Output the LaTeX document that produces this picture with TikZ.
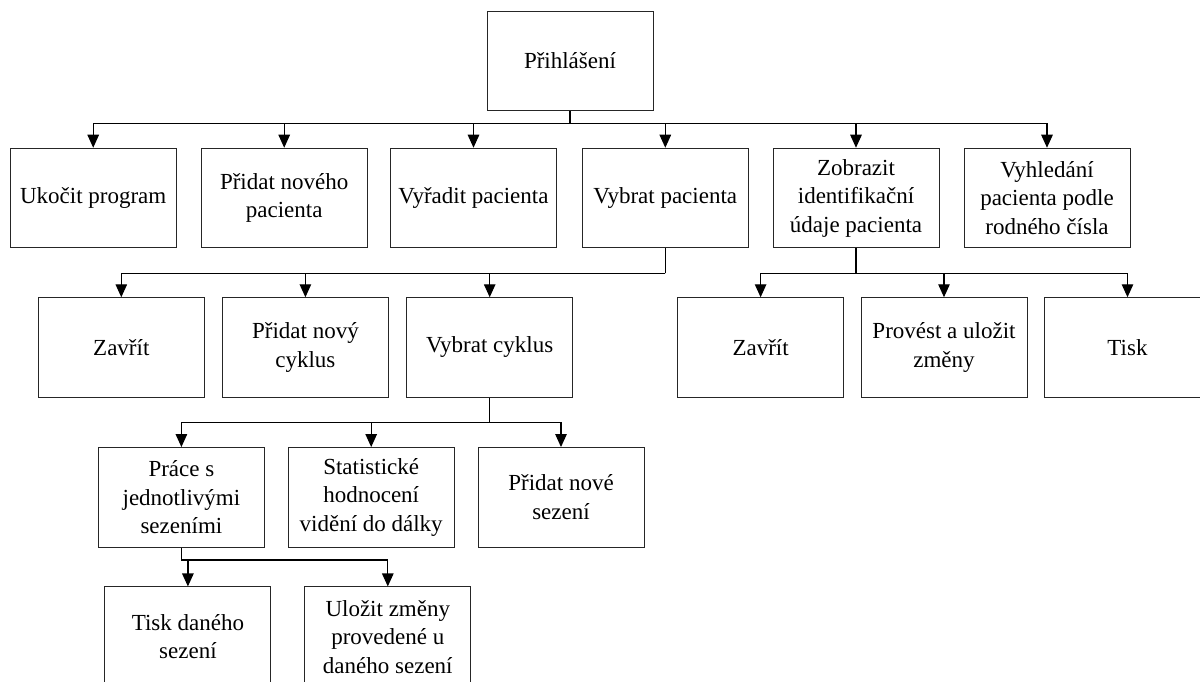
\documentclass[tikz,border=0pt]{standalone}
\usepackage{fontspec}
\setmainfont{Liberation Serif}
\usetikzlibrary{arrows.meta}
\begin{document}
\begin{tikzpicture}[x=1pt,y=-1pt,
  box/.style={draw=black!85, line width=1pt, minimum width=166pt, minimum height=99.5pt,
    inner sep=0pt, align=center, font=\fontsize{23}{28.5}\selectfont},
  conn/.style={line width=1.2pt},
  arr/.style={conn, -{Triangle[length=13pt,width=11.5pt]}}]
\useasboundingbox (0,0) rectangle (1200,682);
\clip (0,0) rectangle (1200,682);
\fill[white] (0,0) rectangle (1200,682);

% top
\node[box] (top) at (570,61) {Přihlášení};
% row 1
\node[box] (u1) at (93.2,198) {Ukočit program};
\node[box] (u2) at (284.2,198) {Přidat nového\\pacienta};
\node[box] (u3) at (473.5,198) {Vyřadit pacienta};
\node[box] (u4) at (665.3,198) {Vybrat pacienta};
\node[box] (u5) at (856,198) {Zobrazit\\identifikační\\údaje pacienta};
\node[box] (u6) at (1047,198) {Vyhledání\\pacienta podle\\rodného čísla};
% row 2
\node[box] (a1) at (121.3,347.5) {Zavřít};
\node[box] (a2) at (305.4,347.5) {Přidat nový\\cyklus};
\node[box] (a3) at (489.7,347.5) {Vybrat cyklus};
\node[box] (b1) at (760.6,347.5) {Zavřít};
\node[box] (b2) at (944,347.5) {Provést a uložit\\změny};
\node[box] (b3) at (1127.5,347.5) {Tisk};
% row 3
\node[box] (c1) at (181.4,497.3) {Práce s\\jednotlivými\\sezeními};
\node[box] (c2) at (371.2,497.3) {Statistické\\hodnocení\\vidění do dálky};
\node[box] (c3) at (561,497.3) {Přidat nové\\sezení};
% row 4
\node[box] (d1) at (187.9,636.7) {Tisk daného\\sezení};
\node[box] (d2) at (387.8,636.7) {Uložit změny\\provedené u\\daného sezení};

% connectors
\coordinate (k0) at (570,123.3);
\draw[conn] (top.south) -- (k0);
\foreach \n in {u1,u2,u3,u4,u5,u6} \draw[arr] (k0) -| (\n.north);

\coordinate (k1) at (665.3,273.3);
\draw[conn] (u4.south) -- (k1);
\foreach \n in {a1,a2,a3} \draw[arr] (k1) -| (\n.north);

\coordinate (k2) at (856,273.3);
\draw[conn] (u5.south) -- (k2);
\foreach \n in {b1,b2,b3} \draw[arr] (k2) -| (\n.north);

\coordinate (k3) at (489.7,422.7);
\draw[conn] (a3.south) -- (k3);
\foreach \n in {c1,c2,c3} \draw[arr] (k3) -| (\n.north);

\coordinate (k4) at (181.4,560);
\draw[conn] (c1.south) -- (k4) -- (k4 -| d2.north);
\draw[arr] (k4 -| d1.north) -- (d1.north);
\draw[arr] (k4 -| d2.north) -- (d2.north);
\end{tikzpicture}
\end{document}
